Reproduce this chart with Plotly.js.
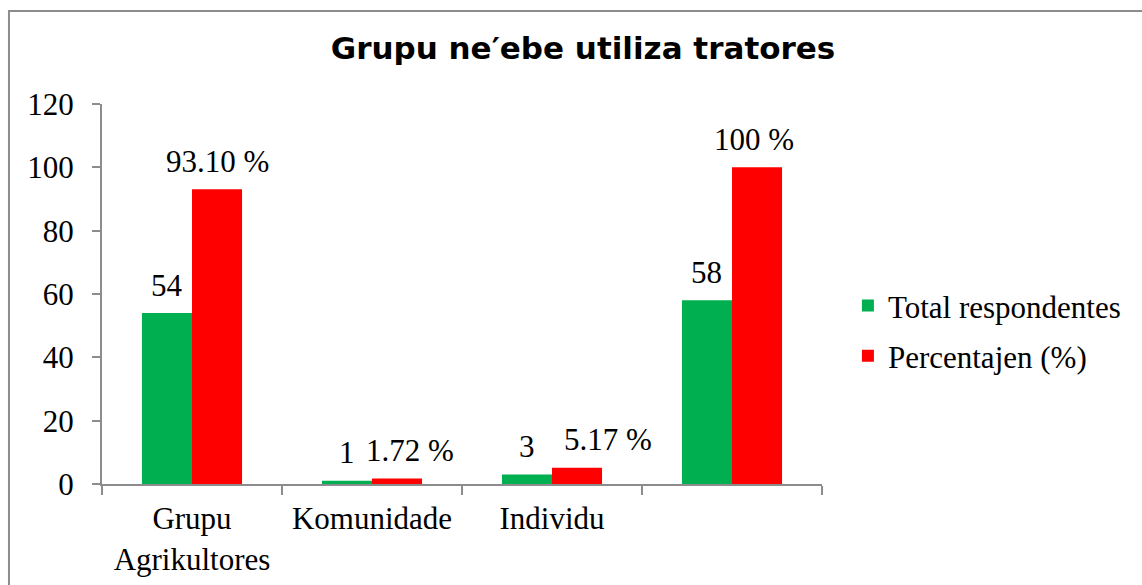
<!DOCTYPE html>
<html>
<head>
<meta charset="utf-8">
<script src="https://cdn.plot.ly/plotly-3.0.1.min.js"></script>
<style>html,body{margin:0;padding:0;background:#fff;}#chart{width:1142px;height:585px;}</style>
</head>
<body>
<div id="chart"></div>
<script>
// Data
const categories = ["Grupu<br>Agrikultores", "Komunidade", "Individu", "\u200b"];
const totalRespondentes = [54, 1, 3, 58];
const percentajen = [93.10, 1.72, 5.17, 100];
const totalLabels = ["54", "1", "3", "58"];
const pctLabels = ["93.10 %", "1.72 %", "5.17 %", "100 %"];
const seriesNames = ["Total respondentes", "Percentajen (%)"];

// Styling / placement (not data)
const pctLabelNudge = [0, 13, 31, -3];
const barHalf = 0.139;
const serif = "Liberation Serif";
const fs = 31;
const green = "#00B050", red = "#FF0000", axisGray = "#8c8c8c";

const traces = [
  {type: "bar", name: seriesNames[0], x: categories, y: totalRespondentes,
   marker: {color: green}, legendgroup: "a", hoverinfo: "y"},
  {type: "bar", name: seriesNames[1], x: categories, y: percentajen,
   marker: {color: red}, legendgroup: "b", hoverinfo: "y"}
];

const annotations = [];
categories.forEach((c, i) => {
  annotations.push({xref: "x", yref: "y", x: i - barHalf, y: totalRespondentes[i],
    text: totalLabels[i], showarrow: false, yanchor: "middle", yshift: 28,
    font: {family: serif, size: fs, color: "#000"}});
  annotations.push({xref: "x", yref: "y", x: i + barHalf, y: percentajen[i],
    text: pctLabels[i], showarrow: false, yanchor: "middle", yshift: 28, xshift: pctLabelNudge[i],
    font: {family: serif, size: fs, color: "#000"}});
});

const layout = {
  width: 1142, height: 585,
  margin: {l: 102, r: 320, t: 104, b: 101, pad: 0},
  paper_bgcolor: "#fff", plot_bgcolor: "#fff",
  title: {text: "Grupu ne\u2032ebe utiliza tratores", xref: "container", x: 0.5105, xanchor: "center",
          yref: "container", y: 0.918, yanchor: "middle",
          font: {family: "DejaVu Sans", size: 31, weight: "bold", color: "#000"}},
  barmode: "group", bargap: 0.444, bargroupgap: 0,
  showlegend: true,
  legend: {x: 1.036, xanchor: "left", y: 0.403, yanchor: "middle", tracegroupgap: 7,
           font: {family: serif, size: fs, color: "#000"}, bgcolor: "rgba(0,0,0,0)"},
  xaxis: {type: "category", tickson: "boundaries", ticks: "outside", ticklen: 9, tickwidth: 2,
          tickcolor: axisGray, showline: true, linecolor: axisGray, linewidth: 2,
          showgrid: false, zeroline: false, fixedrange: true, ticklabelstandoff: 6,
          tickfont: {family: serif, size: fs, color: "#000"}},
  yaxis: {range: [0, 120], dtick: 20, tick0: 0, ticks: "outside", ticklen: 8, tickwidth: 2,
          tickcolor: axisGray, showline: true, linecolor: axisGray, linewidth: 2,
          showgrid: false, zeroline: false, fixedrange: true, ticklabelstandoff: 12,
          tickfont: {family: serif, size: fs, color: "#000"}},
  annotations: annotations,
  shapes: [
    {type: "rect", xref: "paper", yref: "paper", x0: -0.1292, x1: 1.46, y0: -0.31, y1: 1.2447,
     line: {color: axisGray, width: 2}, fillcolor: "rgba(0,0,0,0)", layer: "below"}
  ]
};

Plotly.newPlot("chart", traces, layout, {displayModeBar: false, staticPlot: true});
</script>
</body>
</html>
